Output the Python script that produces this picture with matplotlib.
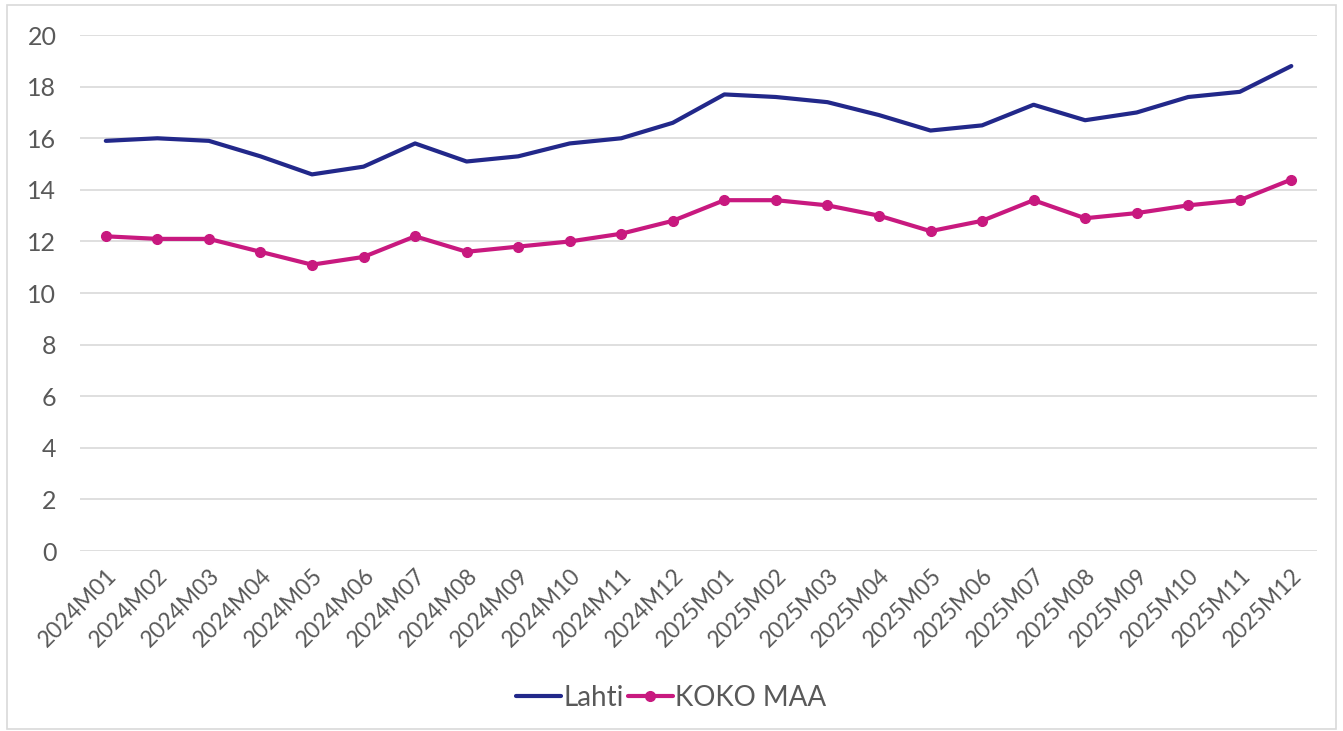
import matplotlib
matplotlib.use("Agg")
import matplotlib.pyplot as plt
from matplotlib.patches import Rectangle

months = ["2024M01", "2024M02", "2024M03", "2024M04", "2024M05", "2024M06",
          "2024M07", "2024M08", "2024M09", "2024M10", "2024M11", "2024M12",
          "2025M01", "2025M02", "2025M03", "2025M04", "2025M05", "2025M06",
          "2025M07", "2025M08", "2025M09", "2025M10", "2025M11", "2025M12"]
lahti = [15.9, 16.0, 15.9, 15.3, 14.6, 14.9, 15.8, 15.1, 15.3, 15.8, 16.0, 16.6,
         17.7, 17.6, 17.4, 16.9, 16.3, 16.5, 17.3, 16.7, 17.0, 17.6, 17.8, 18.8]
koko_maa = [12.2, 12.1, 12.1, 11.6, 11.1, 11.4, 12.2, 11.6, 11.8, 12.0, 12.3, 12.8,
            13.6, 13.6, 13.4, 13.0, 12.4, 12.8, 13.6, 12.9, 13.1, 13.4, 13.6, 14.4]
yticks = [0, 2, 4, 6, 8, 10, 12, 14, 16, 18, 20]

plt.rcParams['font.family'] = ['Lato', 'DejaVu Sans']
text_col = '#595959'

fig = plt.figure(figsize=(13.43, 7.31), dpi=100)
ax = fig.add_axes([0.0596, 0.2462, 0.9211, 0.7058])

x = range(len(months))
ax.plot(x, lahti, color='#22288A', lw=3, label='Lahti', solid_capstyle='round')
ax.plot(x, koko_maa, color='#C8197F', lw=3, marker='o', ms=7, label='KOKO MAA',
        solid_capstyle='round')

ax.set_xlim(-0.5, len(months) - 0.5)
ax.set_ylim(0, 20)
ax.set_yticks(yticks)
ax.yaxis.grid(True, color='#d9d9d9', lw=1.2)
ax.set_axisbelow(True)
for s in ax.spines.values():
    s.set_visible(False)
ax.tick_params(axis='both', length=0, colors=text_col, labelsize=18)
ax.tick_params(axis='y', pad=17)
ax.set_xticks(list(x))
ax.set_xticklabels(months, rotation=45, ha='right', rotation_mode='anchor',
                   fontsize=16.5)
ax.tick_params(axis='x', pad=10)

leg = fig.legend(loc='center', bbox_to_anchor=(0.5, 0.045), ncol=2, frameon=False,
                 fontsize=20, handlelength=1.6, columnspacing=0.15, handletextpad=0.1)
for t in leg.get_texts():
    t.set_color(text_col)

fig.patches.append(Rectangle((0.005, 0.003), 0.99, 0.99, transform=fig.transFigure,
                             fill=False, edgecolor='#d9d9d9', lw=1.2))

fig.savefig('out.png', dpi=100)
